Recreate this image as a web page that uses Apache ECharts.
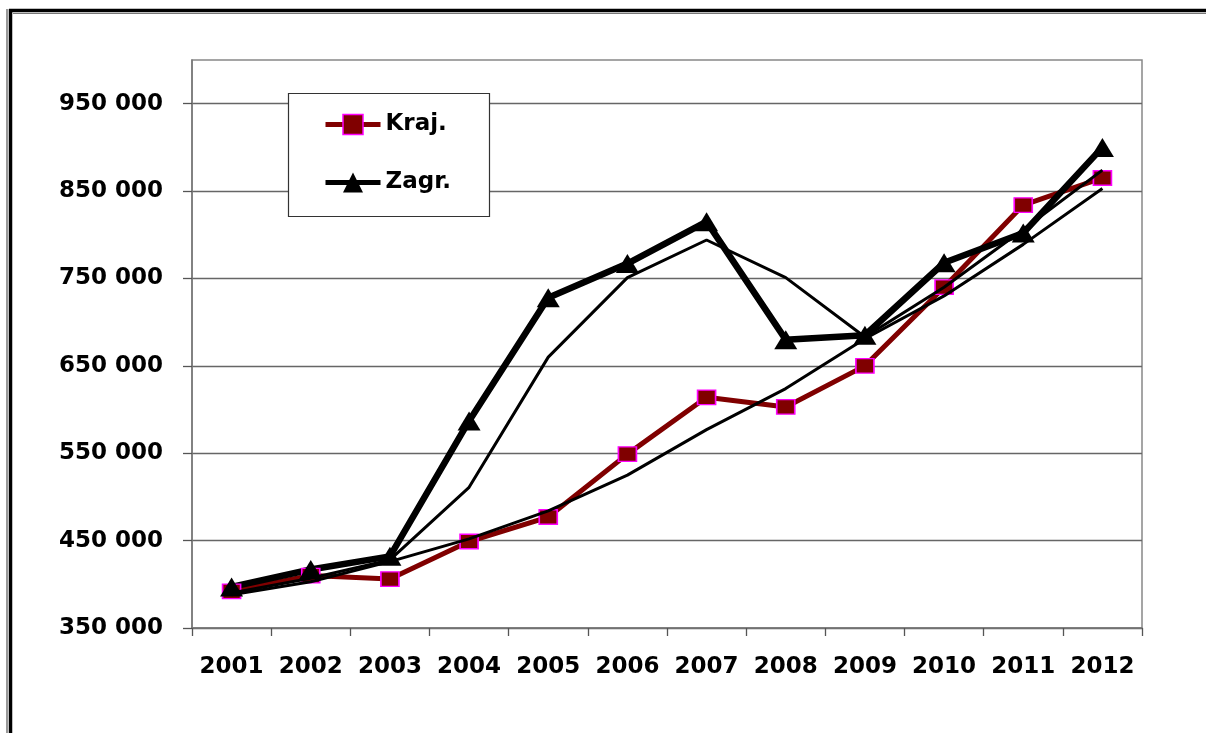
<!DOCTYPE html>
<html>
<head>
<meta charset="utf-8">
<script src="https://cdn.jsdelivr.net/npm/echarts@6/dist/echarts.min.js"></script>
<style>
html,body{margin:0;padding:0;background:#fff;}
#c{width:1206px;height:733px;}
</style>
</head>
<body>
<div id="c"></div>
<script>
var years = ['2001','2002','2003','2004','2005','2006','2007','2008','2009','2010','2011','2012'];
var kraj = [392000, 410000, 406000, 449000, 477000, 549000, 614000, 603000, 650000, 740000, 834000, 865000];
var zagr = [397000, 417000, 432000, 587000, 728000, 767000, 815000, 680000, 685000, 768000, 802000, 900000];
var trendKraj = [388000, 403000, 426000, 452000, 484000, 525000, 577000, 624000, 681000, 730000, 789000, 853000];
var trendZagr = [390000, 407000, 428000, 511000, 660000, 751000, 794000, 751000, 683000, 740000, 806000, 874000];
var yTicks = [350000, 450000, 550000, 650000, 750000, 850000, 950000];
var seriesNames = ['Kraj.', 'Zagr.'];

var FONT = 'DejaVu Sans';
function fmt(v){ return String(v).replace(/\B(?=(\d{3})+(?!\d))/g, ' '); }

var chart = echarts.init(document.getElementById('c'), null, {renderer:'canvas'});
chart.setOption({
  animation: false,
  backgroundColor: '#fff',
  grid: {left: 192, right: 64, top: 60, bottom: 105, show: true, borderColor: '#888', borderWidth: 1.5, backgroundColor: 'transparent'},
  legend: {
    data: [
      {name: seriesNames[0], lineStyle: {color: '#800000', width: 5}, itemStyle: {color: '#800000', borderColor: '#ff00ff', borderWidth: 1.5}},
      {name: seriesNames[1], lineStyle: {color: '#000', width: 5}, itemStyle: {color: '#000'}}
    ],
    orient: 'vertical',
    left: 323, top: 113,
    itemWidth: 55, itemHeight: 25, itemGap: 35,
    padding: 0,
    textStyle: {fontFamily: FONT, fontWeight: 'bold', fontSize: 23, color: '#000'}
  },
  xAxis: {
    type: 'category', data: years, boundaryGap: true,
    axisLine: {lineStyle: {color: '#777', width: 1.5}},
    axisTick: {show: true, length: 8, lineStyle: {color: '#555', width: 1.3}},
    axisLabel: {fontFamily: FONT, fontWeight: 'bold', fontSize: 23, color: '#000', margin: 28, interval: 0}
  },
  yAxis: {
    type: 'value', min: 350000, max: 1000000, interval: 100000,
    axisLine: {show: true, lineStyle: {color: '#777', width: 1.5}},
    axisTick: {show: true, length: 9, customValues: yTicks, lineStyle: {color: '#555', width: 1.3}},
    axisLabel: {fontFamily: FONT, fontWeight: 'bold', fontSize: 23, color: '#000', margin: 29, customValues: yTicks, formatter: fmt},
    splitLine: {show: true, lineStyle: {color: '#666', width: 1.3}}
  },
  series: [
    {name: 'Kraj.', type: 'line', data: kraj, z: 2,
     lineStyle: {color: '#800000', width: 5},
     symbol: 'rect', symbolSize: [18, 14.5],
     itemStyle: {color: '#800000', borderColor: '#ff00ff', borderWidth: 1.5}},
    {name: 'Zagr.', type: 'line', data: zagr, z: 2,
     lineStyle: {color: '#000', width: 6.5},
     symbol: 'triangle', symbolSize: [23, 19],
     itemStyle: {color: '#000'}},
    {name: 'trendKraj', type: 'line', data: trendKraj, z: 3, symbol: 'none',
     lineStyle: {color: '#000', width: 3}},
    {name: 'trendZagr', type: 'line', data: trendZagr, z: 3, symbol: 'none',
     lineStyle: {color: '#000', width: 3}}
  ],
  graphic: [
    {type: 'rect', z: 3, shape: {x: 288.5, y: 93.5, width: 201, height: 123}, style: {fill: '#fff', stroke: '#333', lineWidth: 1.2}},
    {type: 'line', z: 10, shape: {x1: 9, y1: 10.5, x2: 1206, y2: 10.5}, style: {stroke: '#000', lineWidth: 3.5}},
    {type: 'line', z: 10, shape: {x1: 13, y1: 13.5, x2: 1206, y2: 13.5}, style: {stroke: '#777', lineWidth: 1.2}},
    {type: 'line', z: 10, shape: {x1: 10.5, y1: 9, x2: 10.5, y2: 733}, style: {stroke: '#000', lineWidth: 3.5}},
    {type: 'line', z: 10, shape: {x1: 7, y1: 9, x2: 7, y2: 733}, style: {stroke: '#555', lineWidth: 1.2}}
  ]
});
</script>
</body>
</html>
